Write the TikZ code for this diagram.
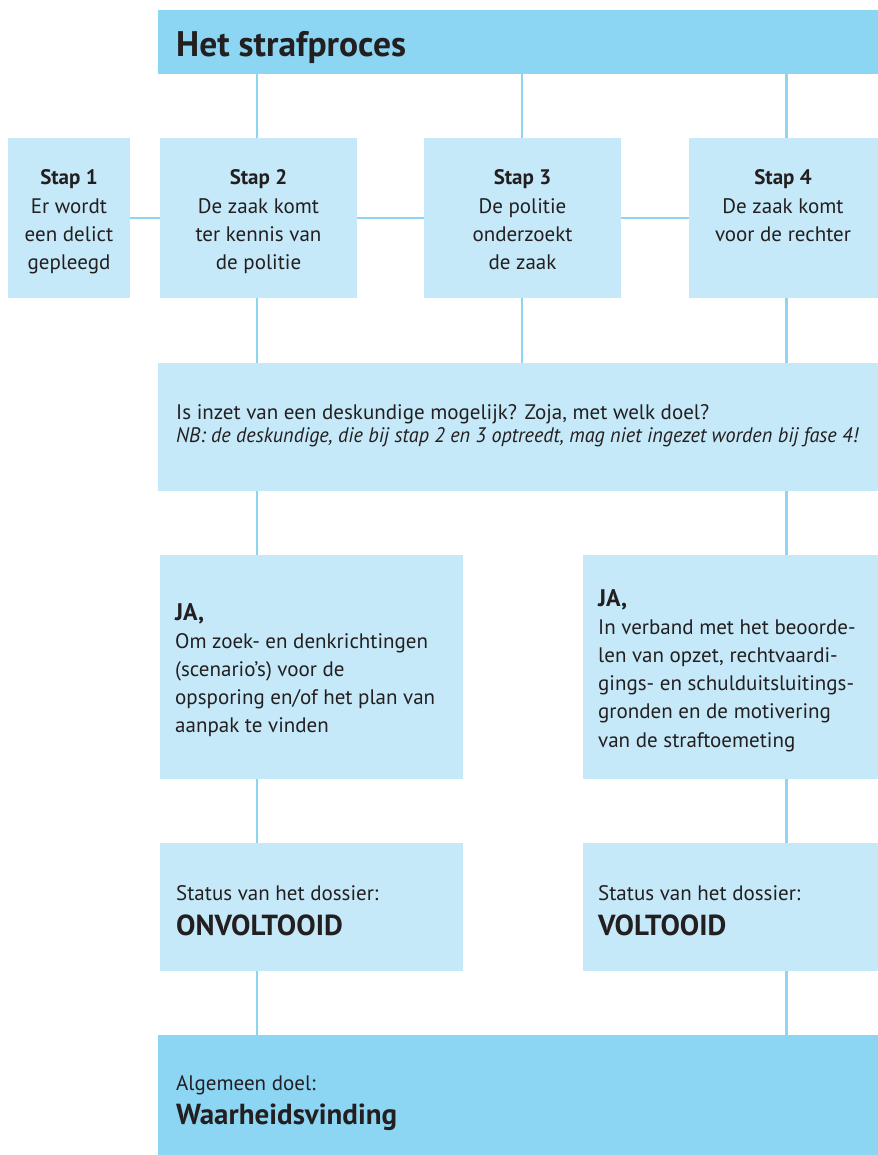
\documentclass[tikz,border=0pt]{standalone}
\usepackage{fontspec}
\setmainfont{PT Sans}
\definecolor{darkcyan}{HTML}{8DD6F3}
\definecolor{lightcyan}{HTML}{C5E9F8}
\definecolor{ink}{HTML}{231F20}
\tikzset{
  box/.style={rectangle, inner sep=0pt, draw=none, fill=lightcyan},
  darkbox/.style={box, fill=darkcyan},
  conn/.style={draw=darkcyan, line width=2.4pt},
  txt/.style={inner sep=0pt, text=ink, font=\fontsize{21}{28}\selectfont},
  btxt/.style={txt, font=\fontsize{21}{28}\selectfont\bfseries},
  jatxt/.style={txt, font=\fontsize{24}{28}\selectfont\bfseries},
  itxt/.style={txt, font=\fontsize{21}{28}\selectfont\itshape},
  big/.style={txt, font=\fontsize{29}{34}\selectfont\bfseries},
  title/.style={txt, font=\fontsize{35.5}{40}\selectfont\bfseries},
}
\begin{document}
\begin{tikzpicture}[x=1pt, y=-1pt]
\useasboundingbox (0,0) rectangle (877,1155);
% boxes
\node[darkbox, minimum width=742pt, minimum height=64pt]  (head) at (529,42) {};
\node[box, minimum width=122pt, minimum height=160pt] (s1) at (69,218) {};
\node[box, minimum width=197pt, minimum height=160pt] (s2) at (258.5,218) {};
\node[box, minimum width=197pt, minimum height=160pt] (s3) at (522.5,218) {};
\node[box, minimum width=194pt, minimum height=160pt] (s4) at (786,218) {};
\node[box, minimum width=742pt, minimum height=128pt] (mid) at (529,427) {};
\node[box, minimum width=303pt, minimum height=224pt] (ja1) at (311.5,667) {};
\node[box, minimum width=317pt, minimum height=224pt] (ja2) at (741.5,667) {};
\node[box, minimum width=303pt, minimum height=128pt] (st1) at (311.5,907) {};
\node[box, minimum width=317pt, minimum height=128pt] (st2) at (741.5,907) {};
\node[darkbox, minimum width=742pt, minimum height=135pt] (goal) at (529,1102.5) {};
% column positions of the vertical connectors
\coordinate (c2) at (257,0);
\coordinate (c3) at (522,0);
\coordinate (c4) at (786.5,0);
% connectors
\draw[conn] (head.south -| c2) -- (s2.north -| c2);
\draw[conn] (head.south -| c3) -- (s3.north -| c3);
\draw[conn] (head.south -| c4) -- (s4.north -| c4);
\draw[conn] (s1.east) -- (s2.west);
\draw[conn] (s2.east) -- (s3.west);
\draw[conn] (s3.east) -- (s4.west);
\draw[conn] (s2.south -| c2) -- (mid.north -| c2);
\draw[conn] (s3.south -| c3) -- (mid.north -| c3);
\draw[conn] (s4.south -| c4) -- (mid.north -| c4);
\draw[conn] (mid.south -| c2) -- (ja1.north -| c2);
\draw[conn] (mid.south -| c4) -- (ja2.north -| c4);
\draw[conn] (ja1.south -| c2) -- (st1.north -| c2);
\draw[conn] (ja2.south -| c4) -- (st2.north -| c4);
\draw[conn] (st1.south -| c2) -- (goal.north -| c2);
\draw[conn] (st2.south -| c4) -- (goal.north -| c4);
% title
\node[title, anchor=base west] (headt) at (176,57) {Het strafproces};
% step 1
\node[btxt, anchor=base] (s1a) at (69,185) {Stap 1};
\node[txt, anchor=base] (s1b) at (69,213.3) {Er wordt};
\node[txt, anchor=base] (s1c) at (69,241.3) {een delict};
\node[txt, anchor=base] (s1d) at (69,269.3) {gepleegd};
% step 2
\node[btxt, anchor=base] (s2a) at (258.5,185) {Stap 2};
\node[txt, anchor=base] (s2b) at (258.5,213.3) {De zaak komt};
\node[txt, anchor=base] (s2c) at (258.5,241.3) {ter kennis van};
\node[txt, anchor=base] (s2d) at (258.5,269.3) {de politie};
% step 3
\node[btxt, anchor=base] (s3a) at (522.5,185) {Stap 3};
\node[txt, anchor=base] (s3b) at (522.5,213.3) {De politie};
\node[txt, anchor=base] (s3c) at (522.5,241.3) {onderzoekt};
\node[txt, anchor=base] (s3d) at (522.5,269.3) {de zaak};
% step 4
\node[btxt, anchor=base] (s4a) at (783,185) {Stap 4};
\node[txt, anchor=base] (s4b) at (783,213.3) {De zaak komt};
\node[txt, anchor=base] (s4c) at (783,241.3) {voor de rechter};
% middle
\node[txt, anchor=base west] (mida) at (176,419.5) {Is inzet van een deskundige mogelijk? Zoja, met welk doel?};
\node[itxt, anchor=base west] (midb) at (176,442) {\resizebox{682pt}{\height}{NB: de deskundige, die bij stap 2 en 3 optreedt, mag niet ingezet worden bij fase 4!}};
% JA left
\node[jatxt, anchor=base west] (ja1a) at (175,620.7) {JA,};
\node[txt, anchor=base west] (ja1b) at (175,648.3) {Om zoek- en denkrichtingen};
\node[txt, anchor=base west] (ja1c) at (175,676.5) {(scenario’s) voor de};
\node[txt, anchor=base west] (ja1d) at (175,704.7) {opsporing en/of het plan van};
\node[txt, anchor=base west] (ja1e) at (175,732.9) {aanpak te vinden};
% JA right
\node[jatxt, anchor=base west] (ja2a) at (598,606.7) {JA,};
\node[txt, anchor=base west] (ja2b) at (598,634.3) {In verband met het beoorde-};
\node[txt, anchor=base west] (ja2c) at (598,662.5) {len van opzet, rechtvaardi-};
\node[txt, anchor=base west] (ja2d) at (598,690.7) {gings- en schulduitsluitings-};
\node[txt, anchor=base west] (ja2e) at (598,718.9) {gronden en de motivering};
\node[txt, anchor=base west] (ja2f) at (598,747.1) {van de straftoemeting};
% status
\node[txt, anchor=base west] (st1a) at (176,900.7) {Status van het dossier:};
\node[big, anchor=base west] (st1b) at (176,935) {ONVOLTOOID};
\node[txt, anchor=base west] (st2a) at (598,900.7) {Status van het dossier:};
\node[big, anchor=base west] (st2b) at (598,935) {VOLTOOID};
% goal
\node[txt, anchor=base west] (goala) at (176,1090.7) {Algemeen doel:};
\node[big, anchor=base west] (goalb) at (176,1124) {Waarheidsvinding};
\end{tikzpicture}
\end{document}
